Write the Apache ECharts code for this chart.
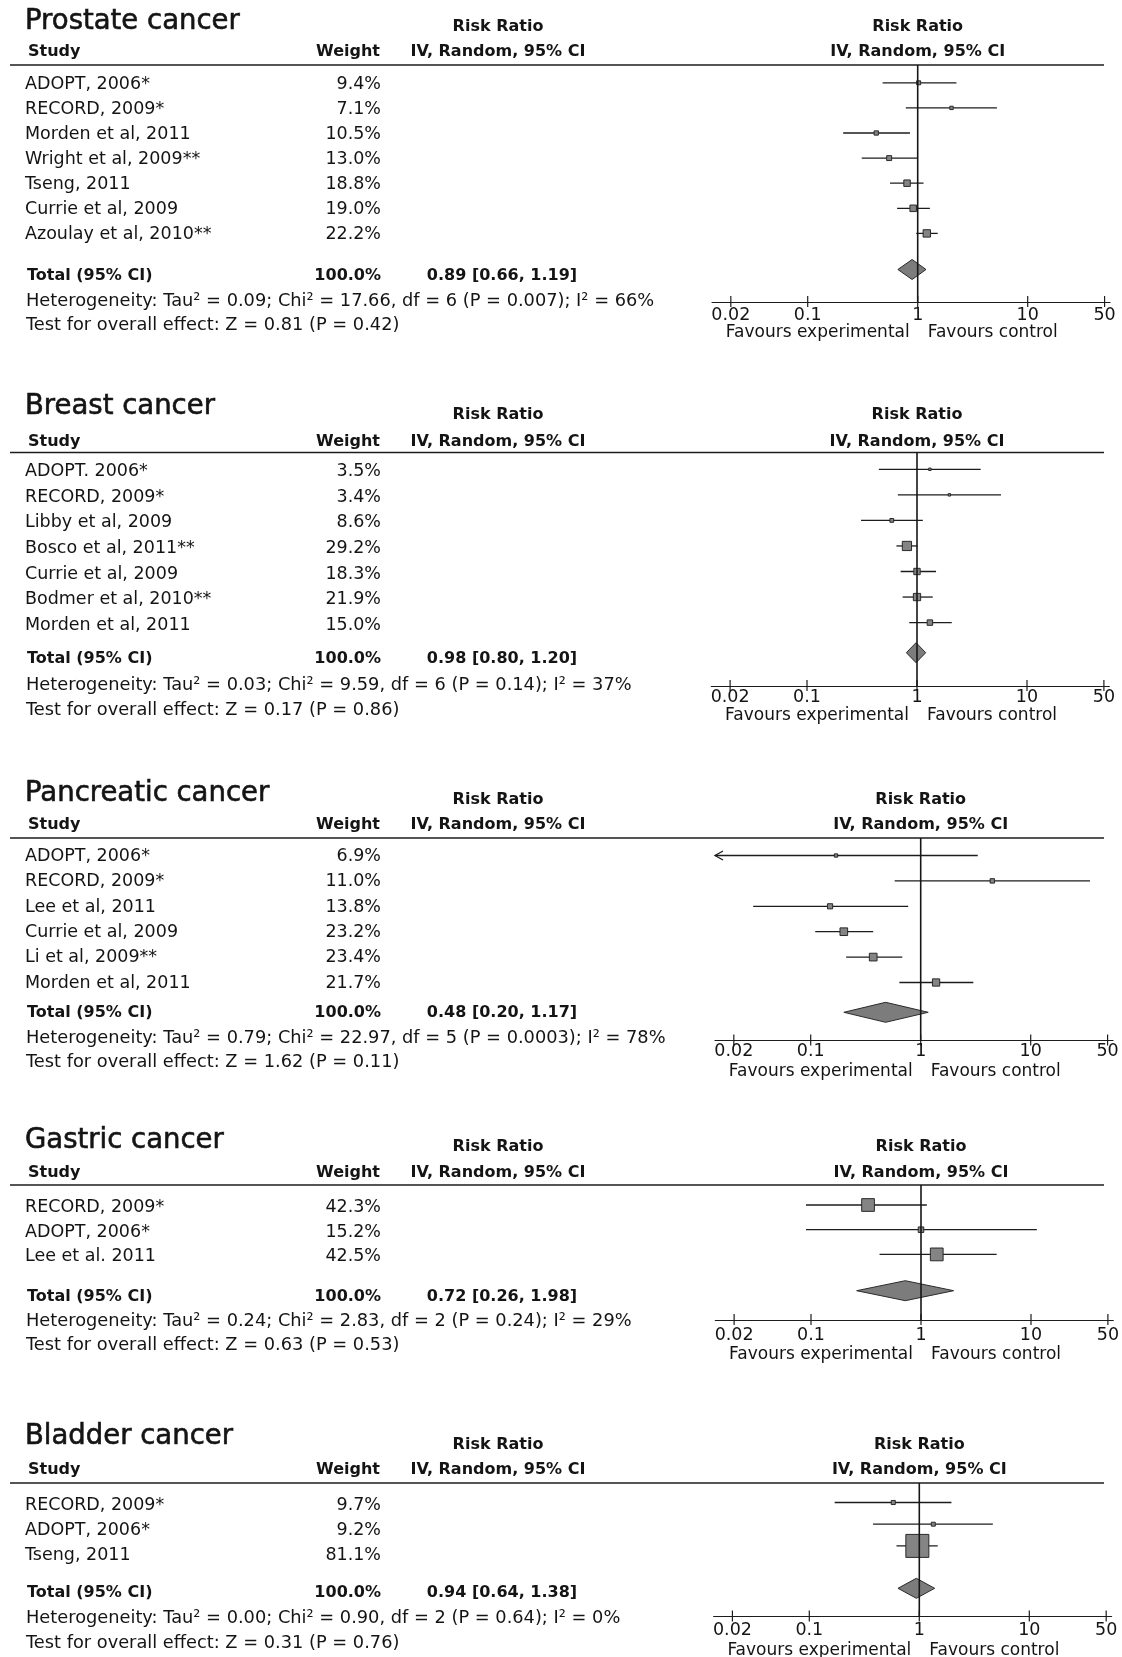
<!DOCTYPE html>
<html>
<head>
<meta charset="utf-8">
<title>Forest plots: risk ratio by cancer site</title>
<script src="https://cdn.jsdelivr.net/npm/echarts@6/dist/echarts.min.js"></script>
<style>
  html, body { margin: 0; padding: 0; background: #ffffff; }
  #chart { width: 1122px; height: 1657px; }
</style>
</head>
<body>
<div id="chart"></div>
<script>
// ---------------- data ----------------
const tickValues = [0.02, 0.1, 1, 10, 50];
const tickLabels = ['0.02', '0.1', '1', '10', '50'];

const prostateTitle = 'Prostate cancer';
const prostateStudies = ['ADOPT, 2006*', 'RECORD, 2009*', 'Morden et al, 2011', 'Wright et al, 2009**', 'Tseng, 2011', 'Currie et al, 2009', 'Azoulay et al, 2010**'];
const prostateWeights = [9.4, 7.1, 10.5, 13.0, 18.8, 19.0, 22.2];
const prostateRR    = [1.02, 2.03, 0.42, 0.55, 0.80, 0.91, 1.21];
const prostateLower = [0.48, 0.78, 0.21, 0.31, 0.56, 0.65, 0.97];
const prostateUpper = [2.25, 5.25, 0.85, 0.99, 1.13, 1.29, 1.52];
const prostateTotal = [0.89, 0.66, 1.19];
const prostateTotalWeight = 100.0;
const prostateHet  = 'Heterogeneity: Tau² = 0.09; Chi² = 17.66, df = 6 (P = 0.007); I² = 66%';
const prostateTest = 'Test for overall effect: Z = 0.81 (P = 0.42)';

const breastTitle = 'Breast cancer';
const breastStudies = ['ADOPT. 2006*', 'RECORD, 2009*', 'Libby et al, 2009', 'Bosco et al, 2011**', 'Currie et al, 2009', 'Bodmer et al, 2010**', 'Morden et al, 2011'];
const breastWeights = [3.5, 3.4, 8.6, 29.2, 18.3, 21.9, 15.0];
const breastRR    = [1.31, 1.97, 0.59, 0.81, 1.00, 1.00, 1.31];
const breastLower = [0.45, 0.67, 0.31, 0.65, 0.71, 0.74, 0.85];
const breastUpper = [3.79, 5.80, 1.13, 1.01, 1.49, 1.39, 2.07];
const breastTotal = [0.98, 0.80, 1.20];
const breastTotalWeight = 100.0;
const breastHet  = 'Heterogeneity: Tau² = 0.03; Chi² = 9.59, df = 6 (P = 0.14); I² = 37%';
const breastTest = 'Test for overall effect: Z = 0.17 (P = 0.86)';

const pancreaticTitle = 'Pancreatic cancer';
const pancreaticStudies = ['ADOPT, 2006*', 'RECORD, 2009*', 'Lee et al, 2011', 'Currie et al, 2009', 'Li et al, 2009**', 'Morden et al, 2011'];
const pancreaticWeights = [6.9, 11.0, 13.8, 23.2, 23.4, 21.7];
const pancreaticRR    = [0.17, 4.48, 0.15, 0.20, 0.37, 1.38];
const pancreaticLower = [0.009, 0.58, 0.03, 0.11, 0.21, 0.64];
const pancreaticUpper = [3.30, 34.6, 0.77, 0.37, 0.68, 3.01];
const pancreaticTotal = [0.48, 0.20, 1.17];
const pancreaticTotalWeight = 100.0;
const pancreaticHet  = 'Heterogeneity: Tau² = 0.79; Chi² = 22.97, df = 5 (P = 0.0003); I² = 78%';
const pancreaticTest = 'Test for overall effect: Z = 1.62 (P = 0.11)';

const gastricTitle = 'Gastric cancer';
const gastricStudies = ['RECORD, 2009*', 'ADOPT, 2006*', 'Lee et al. 2011'];
const gastricWeights = [42.3, 15.2, 42.5];
const gastricRR    = [0.33, 1.00, 1.39];
const gastricLower = [0.09, 0.09, 0.42];
const gastricUpper = [1.13, 11.3, 4.87];
const gastricTotal = [0.72, 0.26, 1.98];
const gastricTotalWeight = 100.0;
const gastricHet  = 'Heterogeneity: Tau² = 0.24; Chi² = 2.83, df = 2 (P = 0.24); I² = 29%';
const gastricTest = 'Test for overall effect: Z = 0.63 (P = 0.53)';

const bladderTitle = 'Bladder cancer';
const bladderStudies = ['RECORD, 2009*', 'ADOPT, 2006*', 'Tseng, 2011'];
const bladderWeights = [9.7, 9.2, 81.1];
const bladderRR    = [0.58, 1.34, 0.96];
const bladderLower = [0.17, 0.38, 0.62];
const bladderUpper = [1.96, 4.66, 1.47];
const bladderTotal = [0.94, 0.64, 1.38];
const bladderTotalWeight = 100.0;
const bladderHet  = 'Heterogeneity: Tau² = 0.00; Chi² = 0.90, df = 2 (P = 0.64); I² = 0%';
const bladderTest = 'Test for overall effect: Z = 0.31 (P = 0.76)';

const panels = [
  { title: prostateTitle, studies: prostateStudies, weights: prostateWeights, rr: prostateRR, lo: prostateLower, hi: prostateUpper, total: prostateTotal, totalWeight: prostateTotalWeight, het: prostateHet, test: prostateTest },
  { title: breastTitle, studies: breastStudies, weights: breastWeights, rr: breastRR, lo: breastLower, hi: breastUpper, total: breastTotal, totalWeight: breastTotalWeight, het: breastHet, test: breastTest },
  { title: pancreaticTitle, studies: pancreaticStudies, weights: pancreaticWeights, rr: pancreaticRR, lo: pancreaticLower, hi: pancreaticUpper, total: pancreaticTotal, totalWeight: pancreaticTotalWeight, het: pancreaticHet, test: pancreaticTest },
  { title: gastricTitle, studies: gastricStudies, weights: gastricWeights, rr: gastricRR, lo: gastricLower, hi: gastricUpper, total: gastricTotal, totalWeight: gastricTotalWeight, het: gastricHet, test: gastricTest },
  { title: bladderTitle, studies: bladderStudies, weights: bladderWeights, rr: bladderRR, lo: bladderLower, hi: bladderUpper, total: bladderTotal, totalWeight: bladderTotalWeight, het: bladderHet, test: bladderTest }
];

// ---------------- layout (pixels) ----------------
const layouts = [
  { x1: 917.7, titleY: 22,     rrY: 26.5,  subY: 52,     lineY: 65,    rowY0: 82.8,   rowStep: 25.1,  textStep: 25.1,  textDy: 1.2, totalY: 269.5,  totalTextY: 275.5,  hetY: 301,    testY: 325.5,  axisY: 302,    tickY: 315.5,  favY: 332.5 },
  { x1: 917.0, titleY: 406.5,  rrY: 415,   subY: 441.5,  lineY: 452.5, rowY0: 469.3,  rowStep: 25.55, textStep: 25.7,  textDy: 2,   totalY: 652.7,  totalTextY: 659,    hetY: 685.5,  testY: 710.5,  axisY: 686,    tickY: 697,    favY: 716 },
  { x1: 920.7, titleY: 794,    rrY: 800,   subY: 825,    lineY: 838,   rowY0: 855.5,  rowStep: 25.4,  textStep: 25.4,  textDy: 0.8, totalY: 1012.3, totalTextY: 1013,   hetY: 1038,   testY: 1062,   axisY: 1040.5, tickY: 1051.5, favY: 1071.5 },
  { x1: 921.0, titleY: 1141,   rrY: 1147,  subY: 1172.5, lineY: 1185,  rowY0: 1205,   rowStep: 24.7,  textStep: 24.7,  textDy: 2.5, totalY: 1290.7, totalTextY: 1297,   hetY: 1321,   testY: 1345.5, axisY: 1320,   tickY: 1335,   favY: 1355 },
  { x1: 919.3, titleY: 1437,   rrY: 1445,  subY: 1470,   lineY: 1483,  rowY0: 1502.5, rowStep: 21.7,  textStep: 24.8,  textDy: 3,   totalY: 1588.3, totalTextY: 1592.5, hetY: 1618,   testY: 1643.5, axisY: 1616.5, tickY: 1630,   favY: 1651 }
];

const AXIS_MIN = 0.0135;
const AXIS_MAX = 56;
const DECADE = 110;           // pixels per power of ten
const FAMILY = "'DejaVu Sans', 'Liberation Sans', sans-serif";
const F_TITLE = '27.5px ' + FAMILY;
const F_BODY = '17.5px ' + FAMILY;
const F_NOTE = '17.8px ' + FAMILY;
const F_BOLD = 'bold 16px ' + FAMILY;
const F_FAV = '17px ' + FAMILY;
const INK = '#141414';
const LINE = '#1c1c1c';

function txt(text, x, y, font, align, styleExtra) {
  return {
    type: 'text', silent: true,
    style: Object.assign({ text: text, x: x, y: y, font: font, fill: INK,
             textAlign: align, textVerticalAlign: 'middle', align: align, verticalAlign: 'middle' }, styleExtra || {})
  };
}
function hline(x1, x2, y, w) {
  return { type: 'line', silent: true, shape: { x1: x1, y1: y, x2: x2, y2: y }, style: { stroke: LINE, lineWidth: w } };
}
const fmtRR = v => v.toFixed(2);

// ---------------- renderers ----------------
// one study: confidence-interval whisker plus a box sized by its weight
function renderStudy(params, api) {
  const cs = params.coordSys;
  const row = api.value(3);
  const pe = api.coord([api.value(0), row]);
  const pl = api.coord([api.value(1), row]);
  const ph = api.coord([api.value(2), row]);
  const xMin = cs.x, xMax = cs.x + cs.width;
  const y = pe[1];
  const a = Math.max(pl[0], xMin), b = Math.min(ph[0], xMax);
  const side = 1.5 + 0.265 * api.value(4);
  const kids = [{ type: 'line', shape: { x1: a, y1: y, x2: b, y2: y }, style: { stroke: LINE, lineWidth: 1.3 } }];
  if (pl[0] < xMin) {
    kids.push({ type: 'polyline', shape: { points: [[xMin + 8, y - 4.5], [xMin, y], [xMin + 8, y + 4.5]] }, style: { stroke: LINE, fill: null, lineWidth: 1.3 } });
  }
  if (ph[0] > xMax) {
    kids.push({ type: 'polyline', shape: { points: [[xMax - 8, y - 4.5], [xMax, y], [xMax - 8, y + 4.5]] }, style: { stroke: LINE, fill: null, lineWidth: 1.3 } });
  }
  kids.push({ type: 'rect', shape: { x: pe[0] - side / 2, y: y - side / 2, width: side, height: side },
              style: { fill: '#848484', stroke: '#2a2a2a', lineWidth: 1 } });
  return { type: 'group', children: kids };
}

// pooled estimate: diamond spanning the pooled confidence interval
function renderDiamond(params, api) {
  const row = api.value(3);
  const pe = api.coord([api.value(0), row]);
  const pl = api.coord([api.value(1), row]);
  const ph = api.coord([api.value(2), row]);
  const h = 10;
  return {
    type: 'polygon',
    shape: { points: [[pl[0], pe[1]], [pe[0], pe[1] - h], [ph[0], pe[1]], [pe[0], pe[1] + h]] },
    style: { fill: '#7c7c7c', stroke: '#2a2a2a', lineWidth: 1 }
  };
}

// line of no effect at RR = 1
function renderNullLine(params, api) {
  const cs = params.coordSys;
  const x = api.coord([api.value(0), 0])[0];
  return { type: 'line', shape: { x1: x, y1: cs.y, x2: x, y2: cs.y + cs.height }, style: { stroke: '#161616', lineWidth: 1.6 } };
}

// axis ticks and their labels (tickY comes from the panel layout)
function makeTickRenderer(tickY) {
  return function (params, api) {
    const cs = params.coordSys;
    const x = api.coord([api.value(0), 0])[0];
    const yb = cs.y + cs.height;
    return {
      type: 'group',
      children: [
        { type: 'line', shape: { x1: x, y1: yb - 6, x2: x, y2: yb + 5 }, style: { stroke: LINE, lineWidth: 1.2 } },
        { type: 'text', style: { text: tickLabels[params.dataIndex], x: x, y: tickY, font: F_BODY, fill: INK,
                                 textAlign: 'center', textVerticalAlign: 'middle', align: 'center', verticalAlign: 'middle' } }
      ]
    };
  };
}

// ---------------- build option ----------------
const grids = [], xAxes = [], yAxes = [], series = [], graphics = [];
const logMin = Math.log10(AXIS_MIN), logMax = Math.log10(AXIS_MAX);

panels.forEach((p, k) => {
  const L = layouts[k];
  grids.push({ left: L.x1 + logMin * DECADE, width: (logMax - logMin) * DECADE, top: L.lineY, height: L.axisY - L.lineY });
  xAxes.push({
    type: 'log', logBase: 10, gridIndex: k, min: AXIS_MIN, max: AXIS_MAX,
    axisLine: { show: true, onZero: false, lineStyle: { color: LINE, width: 1.2 } },
    axisTick: { show: false }, axisLabel: { show: false }, splitLine: { show: false }
  });
  yAxes.push({
    type: 'value', gridIndex: k, inverse: true, show: false,
    min: (L.lineY - L.rowY0) / L.rowStep, max: (L.axisY - L.rowY0) / L.rowStep
  });
  const totalRow = (L.totalY - L.rowY0) / L.rowStep;

  series.push({
    type: 'custom', name: p.title, xAxisIndex: k, yAxisIndex: k, clip: false, silent: true, z: 3,
    encode: { x: [0, 1, 2], y: 3 },
    data: p.rr.map((v, i) => [v, p.lo[i], p.hi[i], i, p.weights[i]]),
    renderItem: renderStudy
  });
  series.push({
    type: 'custom', name: p.title + ' total', xAxisIndex: k, yAxisIndex: k, clip: false, silent: true, z: 3,
    encode: { x: [0, 1, 2], y: 3 },
    data: [[p.total[0], p.total[1], p.total[2], totalRow]],
    renderItem: renderDiamond
  });
  series.push({
    type: 'custom', xAxisIndex: k, yAxisIndex: k, clip: false, silent: true, z: 5,
    encode: { x: 0 }, data: [[1]], renderItem: renderNullLine
  });
  series.push({
    type: 'custom', xAxisIndex: k, yAxisIndex: k, clip: false, silent: true, z: 4,
    encode: { x: 0 }, data: tickValues.map(v => [v]), renderItem: makeTickRenderer(L.tickY)
  });

  // text columns
  graphics.push(txt(p.title, 25, L.titleY, F_TITLE, 'left', { stroke: INK, lineWidth: 0.6 }));
  graphics.push(txt('Risk Ratio', 498, L.rrY, F_BOLD, 'center'));
  graphics.push(txt('Risk Ratio', L.x1, L.rrY, F_BOLD, 'center'));
  graphics.push(txt('Study', 28, L.subY, F_BOLD, 'left'));
  graphics.push(txt('Weight', 380, L.subY, F_BOLD, 'right'));
  graphics.push(txt('IV, Random, 95% CI', 498, L.subY, F_BOLD, 'center'));
  graphics.push(txt('IV, Random, 95% CI', L.x1, L.subY, F_BOLD, 'center'));
  graphics.push(hline(10, 1104, L.lineY, 1.5));
  p.studies.forEach((s, i) => {
    const y = L.rowY0 + L.textDy + i * L.textStep;
    graphics.push(txt(s, 25, y, F_BODY, 'left'));
    graphics.push(txt(p.weights[i].toFixed(1) + '%', 381, y, F_BODY, 'right'));
  });
  graphics.push(txt('Total (95% CI)', 27, L.totalTextY, F_BOLD, 'left'));
  graphics.push(txt(p.totalWeight.toFixed(1) + '%', 381, L.totalTextY, F_BOLD, 'right'));
  graphics.push(txt(fmtRR(p.total[0]) + ' [' + fmtRR(p.total[1]) + ', ' + fmtRR(p.total[2]) + ']', 502, L.totalTextY, F_BOLD, 'center'));
  graphics.push(txt(p.het, 26, L.hetY, F_NOTE, 'left'));
  graphics.push(txt(p.test, 26, L.testY, F_NOTE, 'left'));
  graphics.push(txt('Favours experimental', L.x1 - 8, L.favY, F_FAV, 'right'));
  graphics.push(txt('Favours control', L.x1 + 10, L.favY, F_FAV, 'left'));
});

const chart = echarts.init(document.getElementById('chart'), null, { renderer: 'canvas' });
chart.setOption({
  backgroundColor: '#ffffff',
  animation: false,
  grid: grids,
  xAxis: xAxes,
  yAxis: yAxes,
  series: series,
  graphic: { elements: graphics }
});
</script>
</body>
</html>
